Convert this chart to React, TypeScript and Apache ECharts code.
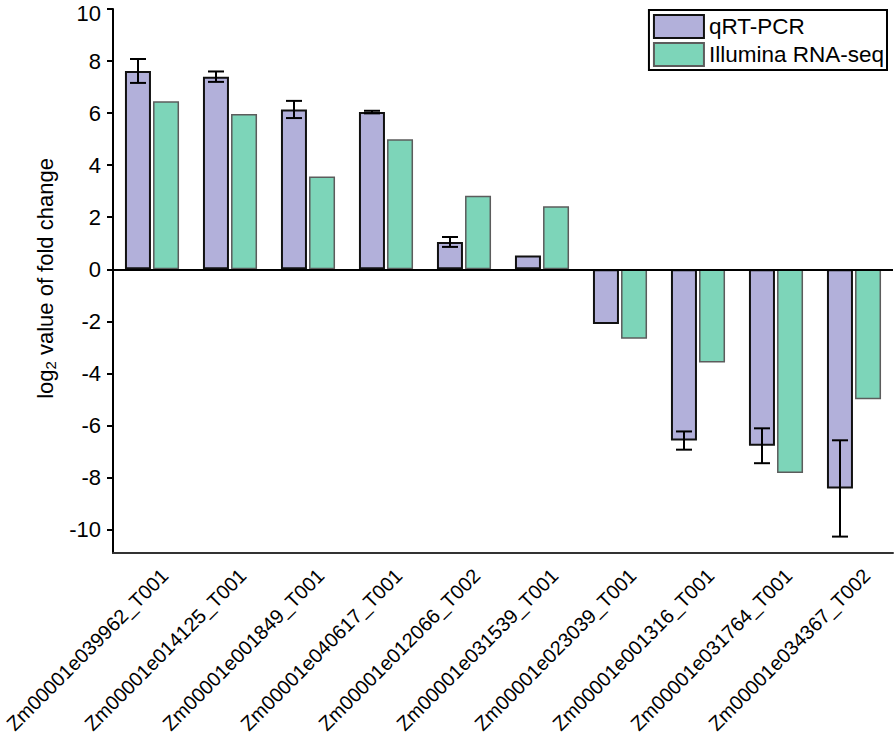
import React, { useEffect, useRef } from "react";
import * as echarts from "echarts";

const categories = [
  "Zm00001e039962_T001",
  "Zm00001e014125_T001",
  "Zm00001e001849_T001",
  "Zm00001e040617_T001",
  "Zm00001e012066_T002",
  "Zm00001e031539_T001",
  "Zm00001e023039_T001",
  "Zm00001e001316_T001",
  "Zm00001e031764_T001",
  "Zm00001e034367_T002",
];
const qrtPcr = [7.62, 7.4, 6.14, 6.04, 1.05, 0.53, -2.1, -6.58, -6.78, -8.42];
const qrtPcrErr = [0.46, 0.2, 0.33, 0.05, 0.19, 0, 0, 0.35, 0.67, 1.85];
const rnaSeq = [6.46, 5.97, 3.56, 5.0, 2.83, 2.42, -2.67, -3.58, -7.83, -4.99];
const yTicks = [-10, -8, -6, -4, -2, 0, 2, 4, 6, 8, 10];
const seriesNames = ["qRT-PCR", "Illumina RNA-seq"];

const FONT = "Liberation Sans";

export default function App() {
  const ref = useRef<HTMLDivElement>(null);
  useEffect(() => {
    if (!ref.current) return;
    const chart = echarts.init(ref.current, null, { renderer: "svg" });
    const errData = qrtPcr.map((v, i) => [i, v - qrtPcrErr[i], v + qrtPcrErr[i]]);
    const yMax = yTicks[yTicks.length - 1];
    chart.setOption({
      animation: false,
      backgroundColor: "#fff",
      textStyle: { fontFamily: FONT, color: "#000" },
      grid: {
        left: 113,
        right: 1,
        top: 9,
        bottom: 185,
        containLabel: false,
        outerBoundsMode: "none",
      },
      legend: {
        orient: "vertical",
        right: 7,
        top: 10,
        icon: "rect",
        itemWidth: 50,
        itemHeight: 23,
        itemGap: 3,
        padding: [4, 3, 3, 4],
        borderColor: "#000",
        borderWidth: 2,
        backgroundColor: "#fff",
        textStyle: { fontSize: 22.5, color: "#000", fontFamily: FONT },
        data: seriesNames,
      },
      xAxis: {
        type: "category",
        data: categories,
        position: "bottom",
        axisLine: { onZero: false, lineStyle: { color: "#333", width: 2 } },
        axisTick: { alignWithLabel: true, length: 6, lineStyle: { color: "#000", width: 2 } },
        axisLabel: {
          rotate: 45,
          margin: 32,
          padding: [0, -18, 0, 0],
          fontSize: 20,
          lineHeight: 16,
          color: "#000",
          fontFamily: FONT,
          interval: 0,
        },
      },
      yAxis: {
        type: "value",
        min: -10.9,
        max: yMax,
        splitLine: { show: false },
        axisLine: { show: true, lineStyle: { color: "#000", width: 2 } },
        axisTick: { show: true, length: 6, customValues: yTicks, lineStyle: { color: "#000", width: 2 } },
        axisLabel: {
          customValues: yTicks,
          fontSize: 22,
          lineHeight: 16,
          color: "#000",
          margin: 12,
          fontFamily: FONT,
          formatter: (v: number) => (v === yMax ? "{t|" + v + "}" : String(v)),
          rich: {
            t: { fontSize: 22, lineHeight: 16, padding: [8, 0, 0, 0], color: "#000", fontFamily: FONT },
          },
        },
        name: "{a|log}{b|2}{a| value of fold change}",
        nameLocation: "middle",
        nameRotate: 90,
        nameGap: 36,
        nameTextStyle: {
          fontSize: 22,
          padding: [0, 0, 0, 5],
          rich: {
            a: { fontSize: 22, lineHeight: 26, color: "#000", fontFamily: FONT },
            b: { fontSize: 15, lineHeight: 14, verticalAlign: "bottom", color: "#000", fontFamily: FONT },
          },
        },
      },
      series: [
        {
          name: seriesNames[0],
          type: "bar",
          data: qrtPcr,
          barWidth: 26,
          barGap: "8%",
          itemStyle: { color: "#b2b0da", borderColor: "#111", borderWidth: 2 },
          markLine: {
            silent: true,
            symbol: "none",
            label: { show: false },
            lineStyle: { color: "#000", width: 2, type: "solid" },
            data: [{ yAxis: 0 }],
          },
          z: 2,
        },
        {
          name: seriesNames[1],
          type: "bar",
          data: rnaSeq,
          barWidth: 26,
          itemStyle: { color: "#7dd5b9", borderColor: "#5c5c5c", borderWidth: 1.5 },
          z: 2,
        },
        {
          type: "custom",
          name: "err",
          data: errData,
          z: 5,
          clip: false,
          renderItem: (params: any, api: any) => {
            const idx = api.value(0);
            const x = api.coord([idx, 0])[0] - (26 + 2) / 2;
            const lo = api.coord([idx, api.value(1)])[1];
            const hi = api.coord([idx, api.value(2)])[1];
            if (Math.abs(lo - hi) < 0.5) return { type: "group", children: [] };
            const cap = 8;
            const style = { stroke: "#000", lineWidth: 2 };
            return {
              type: "group",
              children: [
                { type: "line", shape: { x1: x, y1: lo, x2: x, y2: hi }, style },
                { type: "line", shape: { x1: x - cap, y1: lo, x2: x + cap, y2: lo }, style },
                { type: "line", shape: { x1: x - cap, y1: hi, x2: x + cap, y2: hi }, style },
              ],
            };
          },
        },
      ],
    });
    return () => chart.dispose();
  }, []);
  return <div ref={ref} style={{ width: 894, height: 738, position: "absolute", left: 0, top: 0 }} />;
}
